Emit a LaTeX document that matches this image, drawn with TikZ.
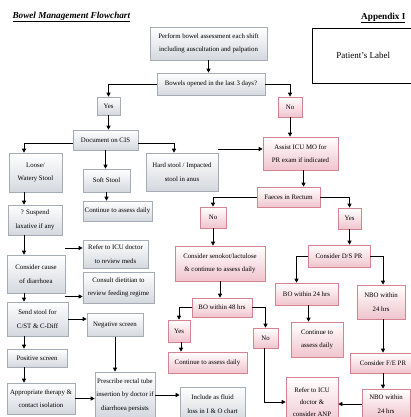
\documentclass[tikz,border=0pt]{standalone}
\usepackage{fontspec}
\setmainfont{Liberation Serif}
\usetikzlibrary{arrows.meta,shadows}
\definecolor{greyline}{RGB}{165,172,182}
\definecolor{greyfill}{RGB}{212,216,222}
\definecolor{pinkline}{RGB}{214,130,145}
\definecolor{pinkfill}{RGB}{240,196,206}
\newcommand{\boxfont}{\fontsize{6.8}{13.5}\selectfont}

\begin{document}
\begin{tikzpicture}[
  x=1pt, y=-1pt,
  box/.style={draw=greyline, line width=0.6pt, top color=white, bottom color=greyfill,
              align=center, inner sep=1pt, font=\boxfont,
              drop shadow={shadow xshift=0.8pt, shadow yshift=-0.8pt, opacity=0.25}},
  pbox/.style={box, draw=pinkline, bottom color=pinkfill},
  arr/.style={-{Triangle[length=4pt, width=4pt]}, line width=0.9pt}
]
\useasboundingbox[fill=white] (0,0) rectangle (410,417);
\coordinate (lx) at (24,0);

\node[anchor=west, font=\fontsize{9.2}{11}\selectfont\bfseries\itshape] (title) at (9,17) {\underline{Bowel Management Flowchart}};
\node[anchor=east, font=\fontsize{9.2}{11}\selectfont\bfseries] (appx) at (409,18) {\underline{Appendix I}};
\node[draw, line width=0.6pt, anchor=north west, minimum width=102pt, minimum height=55pt,
      font=\fontsize{9}{11}\selectfont] (label) at (312,28) {Patient’s Label};

\node[box, minimum width=117pt, minimum height=33pt] (perform) at (208.5,43.5) {Perform bowel assessment each shift\\including auscultation and palpation};
\node[box, minimum width=108pt, minimum height=22pt] (bowels) at (211,84) {Bowels opened in the last 3 days?};
\node[box, minimum width=23pt, minimum height=18pt] (yesa) at (108.5,106) {Yes};
\node[pbox, minimum width=24pt, minimum height=20pt] (noa) at (290,107) {No};
\node[box, minimum width=65pt, minimum height=20pt] (doc) at (105.5,140) {Document on CIS};
\node[box, minimum width=53pt, minimum height=39pt] (loose) at (35.5,172.5) {Loose/\\Watery Stool};
\node[box, minimum width=47pt, minimum height=23pt] (soft) at (106.5,180.5) {Soft Stool};
\node[box, minimum width=69pt, minimum height=20pt] (conta) at (117.5,211) {Continue to assess daily};
\node[box, minimum width=72pt, minimum height=38pt] (hard) at (182,172) {Hard stool / Impacted\\stool in anus};
\node[box, minimum width=54pt, minimum height=30pt] (susp) at (35,220) {? Suspend\\laxative if any};
\node[pbox, minimum width=75pt, minimum height=33pt] (assist) at (300.5,153.5) {Assist ICU MO for\\PR exam if indicated};
\node[pbox, minimum width=63pt, minimum height=20pt] (faeces) at (288.5,197) {Faeces in Rectum};
\node[pbox, minimum width=26pt, minimum height=21pt] (nob) at (213,217.5) {No};
\node[pbox, minimum width=23pt, minimum height=21pt] (yesb) at (349.5,218.5) {Yes};
\node[pbox, minimum width=90pt, minimum height=35pt] (seno) at (220,263.5) {Consider senokot/lactulose\\\& continue to assess daily};
\node[pbox, minimum width=62pt, minimum height=22pt] (dspr) at (339,256) {Consider D/S PR};
\node[box, minimum width=58pt, minimum height=38pt] (cause) at (36,274) {Consider cause\\of diarrhoea};
\node[box, minimum width=65pt, minimum height=28pt] (meds) at (115.5,254) {Refer to ICU doctor\\to review meds};
\node[box, minimum width=71pt, minimum height=31pt] (diet) at (118.5,287.5) {Consult dietitian to\\review feeding regime};
\node[pbox, minimum width=60pt, minimum height=19pt] (bofe) at (222,307.5) {BO within 48 hrs};
\node[pbox, minimum width=63pt, minimum height=22pt] (botf) at (306.5,294) {BO within 24 hrs};
\node[pbox, minimum width=48pt, minimum height=34pt] (nboa) at (381,302) {NBO within\\24 hrs};
\node[box, minimum width=61pt, minimum height=34pt] (send) at (37.5,319) {Send stool for\\C/ST \& C-Diff};
\node[box, minimum width=56pt, minimum height=23pt] (neg) at (115,325) {Negative screen};
\node[pbox, minimum width=22pt, minimum height=22pt] (yesc) at (179,331) {Yes};
\node[pbox, minimum width=25pt, minimum height=20pt] (noc) at (265.5,338) {No};
\node[pbox, minimum width=52pt, minimum height=35pt] (contc) at (317,339.5) {Continue to\\assess daily};
\node[box, minimum width=60pt, minimum height=18pt] (pos) at (37,358) {Positive screen};
\node[pbox, minimum width=79pt, minimum height=21pt] (contb) at (207.5,362.5) {Continue to assess daily};
\node[pbox, minimum width=66pt, minimum height=20pt] (fepr) at (383,363) {Consider F/E PR};
\node[box, minimum width=68pt, minimum height=31pt] (appr) at (41,398.5) {Appropriate therapy \&\\contact isolation};
\node[box, minimum width=60pt, minimum height=46pt] (presc) at (125,395) {Prescribe rectal tube\\insertion by doctor if\\diarrhoea persists};
\node[box, minimum width=65pt, minimum height=34pt] (incl) at (212.5,404) {Include as fluid\\loss in I \& O chart};
\node[pbox, minimum width=52pt, minimum height=50pt, font=\fontsize{6.8}{12.3}\selectfont] (refer) at (312,402) {Refer to ICU\\doctor \&\\consider ANP};
\node[pbox, minimum width=48pt, minimum height=30pt] (nbob) at (386,404) {NBO within\\24 hrs};

\draw[arr] (perform.south) -- (perform.south |- bowels.north);
\draw[arr] (bowels.west) -| (yesa.north);
\draw[arr] (bowels.east) -| (noa.north);
\draw[arr] (yesa.south) -- (yesa.south |- doc.north);
\draw[arr] ([yshift=-3pt]doc.west) -| (lx |- loose.north);
\draw[arr] (doc.south) -- (doc.south |- soft.north);
\draw[arr] ([yshift=-3pt]doc.east) -| ([xshift=-8pt]hard.north);
\draw[arr] (soft.south) -- (soft.south |- conta.north);
\draw[arr] ([yshift=4.5pt]assist.west -| hard.east) -- ([yshift=4.5pt]assist.west);
\draw[arr] (noa.south) -- (noa.south |- assist.north);
\draw[arr] ([xshift=3pt]assist.south) -- ([xshift=3pt]assist.south |- faeces.north);
\draw[arr] (faeces.west) -| (nob.north);
\draw[arr] (faeces.east) -| (yesb.north);
\draw[arr] (nob.south) -- (nob.south |- seno.north);
\draw[arr] (yesb.south) -- (yesb.south |- dspr.north);
\draw[arr] (dspr.west) -| ([xshift=-10pt]botf.north);
\draw[arr] (dspr.east) -| ([xshift=2pt]nboa.north);
\draw[arr] ([xshift=2pt]botf.south) -- ([xshift=2pt]botf.south |- contc.north);
\draw[arr] ([xshift=2pt]nboa.south) -- ([xshift=2pt]nboa.south |- fepr.north);
\draw[arr] (fepr.south) -- (fepr.south |- nbob.north);
\draw[arr] (nbob.west) -- (nbob.west -| refer.east);
\draw[arr] (seno.south) -- (seno.south |- bofe.north);
\draw[arr] (bofe.west) -| (yesc.north);
\draw[arr] ([xshift=2pt]yesc.south) -- ([xshift=2pt]yesc.south |- contb.north);
\draw[arr] (bofe.east) -| (noc.north);
\draw[arr] ([xshift=-1pt]noc.south) |- (refer.west);
\draw[arr] (lx |- loose.south) -- (lx |- susp.north);
\draw[arr] (lx |- susp.south) -- (lx |- cause.north);
\draw[arr] (lx |- cause.south) -- (lx |- send.north);
\draw[arr] (lx |- send.south) -- (lx |- pos.north);
\draw[arr] (lx |- pos.south) -- (lx |- appr.north);
\draw[arr] ([yshift=6pt]meds.west -| cause.east) -- ([yshift=6pt]meds.west);
\draw[arr] ([yshift=-9pt]diet.west -| cause.east) -- ([yshift=-9pt]diet.west);
\draw[arr] ([yshift=6pt]neg.west -| send.east) -- ([yshift=6pt]neg.west);
\draw[arr] (neg.south) -- (neg.south |- presc.north);
\draw[arr] (appr.east) -- (appr.east -| presc.west);
\draw[arr] (presc.east) -- (presc.east -| incl.west);
\end{tikzpicture}
\end{document}
